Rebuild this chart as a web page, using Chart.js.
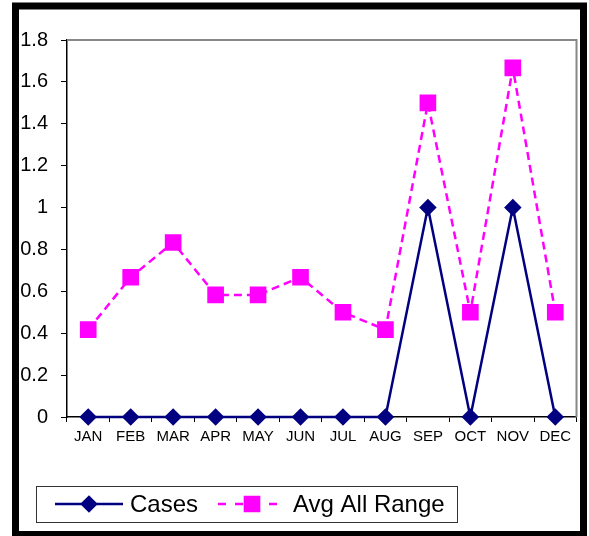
<!DOCTYPE html>
<html>
<head>
<meta charset="utf-8">
<script src="https://cdn.jsdelivr.net/npm/chart.js@4/dist/chart.umd.min.js"></script>
<style>
  html, body { margin: 0; padding: 0; background: #fff; }
  #wrap { width: 589px; height: 536px; }
</style>
</head>
<body>
<div id="wrap"><canvas id="chart" width="589" height="536"></canvas></div>
<script>
const MONTHS = ['JAN', 'FEB', 'MAR', 'APR', 'MAY', 'JUN', 'JUL', 'AUG', 'SEP', 'OCT', 'NOV', 'DEC'];
const CASES = [0, 0, 0, 0, 0, 0, 0, 0, 1, 0, 1, 0];
const AVG_ALL_RANGE = [0.417, 0.667, 0.833, 0.583, 0.583, 0.667, 0.5, 0.417, 1.5, 0.5, 1.667, 0.5];
const Y_MIN = 0;
const Y_MAX = 1.8;
const Y_STEP = 0.2;

const FONT = 'Liberation Sans, Arial, sans-serif';

// outer black frame + grey top/right edges of the plot box
const framePlugin = {
  id: 'frame',
  beforeDraw(chart) {
    const ctx = chart.ctx;
    ctx.save();
    ctx.fillStyle = '#fff';
    ctx.fillRect(0, 0, chart.width, chart.height);
    ctx.strokeStyle = '#000';
    ctx.lineWidth = 7;
    ctx.strokeRect(15.5, 6, 568, 528.5);
    ctx.restore();
  },
  beforeDatasetsDraw(chart) {
    const { ctx, chartArea: a } = chart;
    ctx.save();
    ctx.strokeStyle = '#888';
    ctx.lineWidth = 2;
    ctx.beginPath();
    ctx.moveTo(a.left, a.top);
    ctx.lineTo(a.right, a.top);
    ctx.lineTo(a.right, a.bottom);
    ctx.stroke();
    ctx.restore();
  }
};

// boxed legend with line + marker samples, like the original
const boxLegend = {
  id: 'boxLegend',
  afterDraw(chart) {
    const ctx = chart.ctx;
    const box = { x: 36, y: 486, w: 421, h: 36 };
    ctx.save();
    ctx.strokeStyle = '#333';
    ctx.lineWidth = 1;
    ctx.strokeRect(box.x + 0.5, box.y + 0.5, box.w, box.h);
    const cy = box.y + box.h / 2;
    const starts = [55, 218];
    chart.data.datasets.forEach((ds, i) => {
      const x0 = starts[i];
      ctx.strokeStyle = ds.borderColor;
      ctx.lineWidth = ds.borderWidth;
      ctx.setLineDash(ds.borderDash ? [8, 9] : []);
      ctx.beginPath();
      ctx.moveTo(x0, cy);
      ctx.lineTo(x0 + 68, cy);
      ctx.stroke();
      ctx.setLineDash([]);
      ctx.fillStyle = ds.pointBackgroundColor;
      ctx.strokeStyle = ds.pointBorderColor;
      Chart.helpers.drawPoint(ctx, { pointStyle: ds.pointStyle, radius: ds.pointRadius, rotation: 0, borderWidth: 1 }, x0 + 34, cy);
      ctx.fillStyle = '#000';
      ctx.font = '24px ' + FONT;
      ctx.textBaseline = 'middle';
      ctx.fillText(ds.label, x0 + 75, cy + 1);
    });
    ctx.restore();
  }
};

new Chart(document.getElementById('chart').getContext('2d'), {
  type: 'line',
  data: {
    labels: MONTHS,
    datasets: [
      {
        label: 'Cases',
        data: CASES,
        borderColor: '#000080',
        borderWidth: 2.5,
        pointStyle: 'rectRot',
        pointRadius: 7,
        pointBackgroundColor: '#000080',
        pointBorderColor: '#000080',
        tension: 0,
        clip: false
      },
      {
        label: 'Avg All Range',
        data: AVG_ALL_RANGE,
        borderColor: '#FF00FF',
        borderWidth: 2.5,
        borderDash: [8, 5],
        pointStyle: 'rect',
        pointRadius: 10,
        pointBackgroundColor: '#FF00FF',
        pointBorderColor: '#FF00FF',
        tension: 0,
        clip: false
      }
    ]
  },
  options: {
    responsive: false,
    animation: false,
    devicePixelRatio: 1,
    layout: { padding: { left: 0, top: 40, right: 12, bottom: 89 } },
    plugins: { legend: { display: false }, tooltip: { enabled: false } },
    scales: {
      x: {
        offset: true,
        border: { color: '#000', width: 1.5 },
        grid: { offset: true, drawOnChartArea: false, color: '#000', tickLength: 5 },
        ticks: { color: '#000', font: { family: FONT, size: 15 }, padding: 6, maxRotation: 0 },
        afterFit: (s) => { s.height = 30; }
      },
      y: {
        min: Y_MIN,
        max: Y_MAX,
        border: { color: '#000', width: 1.5 },
        grid: { drawOnChartArea: false, color: '#000', tickLength: 6 },
        ticks: {
          stepSize: Y_STEP,
          color: '#000',
          font: { family: FONT, size: 20 },
          padding: 13,
          callback: (v) => String(+v.toFixed(1))
        },
        afterFit: (s) => { s.width = 67; }
      }
    }
  },
  plugins: [framePlugin, boxLegend]
});
</script>
</body>
</html>
